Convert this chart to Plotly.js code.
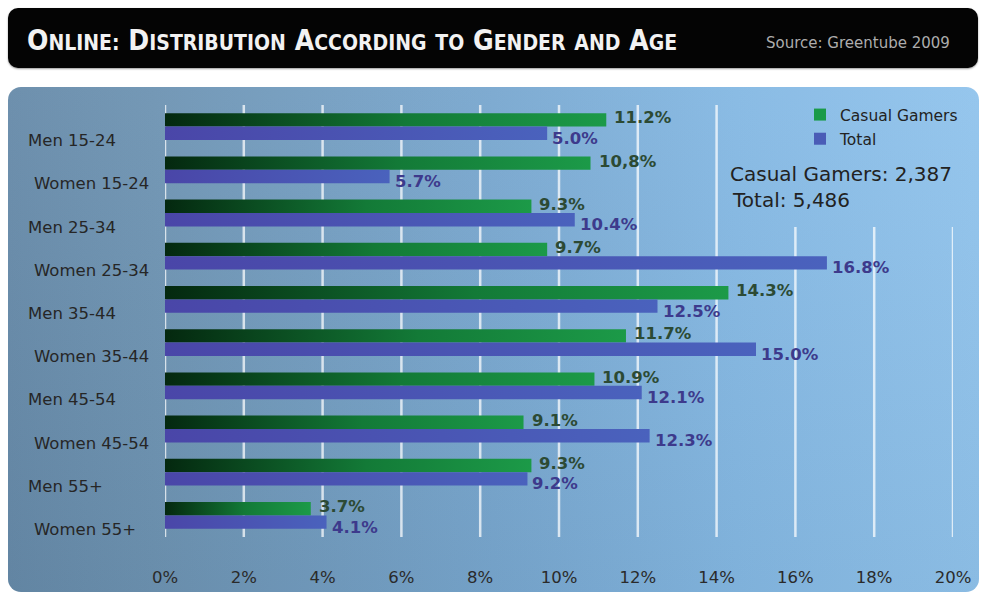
<!DOCTYPE html>
<html>
<head>
<meta charset="utf-8">
<script src="https://cdn.plot.ly/plotly-3.0.1.min.js"></script>
<style>
  html, body { margin:0; padding:0; background:#ffffff; }
  #wrap { position:relative; width:981px; height:594px; overflow:hidden; background:#ffffff; }
  #titlebar { position:absolute; left:8px; top:8px; width:970px; height:60px; background:#040404; border-radius:10px; box-shadow:0 1px 2px rgba(0,0,0,0.4); }
  #panel { position:absolute; left:8px; top:87px; width:971px; height:505px; border-radius:13px;
    background: linear-gradient(to bottom, rgba(255,255,255,0.05), rgba(0,0,0,0.04)),
                linear-gradient(to right, #668aa9 0%, #6d93b2 15%, #78a7cf 50%, #84b8e3 75%, #90c3ec 100%); }
  #chart { position:absolute; left:0; top:0; width:981px; height:594px; }
</style>
</head>
<body>
<div id="wrap">
  <div id="titlebar"></div>
  <div id="panel"></div>
  <div id="chart"></div>
</div>
<script>
// ---- data ----
var categories = ["Men 15-24","Women 15-24","Men 25-34","Women 25-34","Men 35-44","Women 35-44","Men 45-54","Women 45-54","Men 55+","Women 55+"];
var casualShare = [11.2, 10.8, 9.3, 9.7, 14.3, 11.7, 10.9, 9.1, 9.3, 3.7];
var totalShare  = [9.7, 5.7, 10.4, 16.8, 12.5, 15.0, 12.1, 12.3, 9.2, 4.1];
var casualLabels = ["11.2%","10,8%","9.3%","9.7%","14.3%","11.7%","10.9%","9.1%","9.3%","3.7%"];
var totalLabels  = ["5.0%","5.7%","10.4%","16.8%","12.5%","15.0%","12.1%","12.3%","9.2%","4.1%"];
var tickVals = [0,2,4,6,8,10,12,14,16,18,20];
var tickText = ["0%","2%","4%","6%","8%","10%","12%","14%","16%","18%","20%"];
var seriesNames = ["Casual Gamers","Total"];
var sampleNotes = ["Casual Gamers: 2,387","Total: 5,486"];
var SC = '<span style="font-size:21px">';
var titleText = 'O'+SC+'NLINE:</span> D'+SC+'ISTRIBUTION</span> A'+SC+'CCORDING</span> '+SC+'TO</span> G'+SC+'ENDER</span> '+SC+'AND</span> A'+SC+'GE</span>';
var sourceText = "Source: Greentube 2009";

// ---- styles ----
var GREEN = "#1a9a48", BLUE = "#4a5cb6";
var FONT = "DejaVu Sans, Verdana, sans-serif";
var W = 981, H = 594, ML = 165, MR = 28, MT = 105, MB = 57;
var plotW = W - ML - MR, plotH = H - MT - MB;
function px2x(p){ return (p - ML) / plotW; }
function px2y(p){ return (H - MB - p) / plotH; }
var pitch = plotH / categories.length;
var bargap = 0.38;
var barOff = pitch * (1 - bargap) / 4;

var traces = [
  { type:"bar", orientation:"h", name:seriesNames[0], legendgroup:"a", y:categories, x:casualShare,
    marker:{color:GREEN, line:{width:0}}, hoverinfo:"skip" },
  { type:"bar", orientation:"h", name:seriesNames[1], legendgroup:"b", y:categories, x:totalShare,
    marker:{color:BLUE, line:{width:0}}, hoverinfo:"skip" }
];

var annotations = [];
categories.forEach(function(c, i){
  var isWomen = c.indexOf("Women") === 0;
  annotations.push({ xref:"paper", x:0, xshift: isWomen ? -133 : -139, xanchor:"left",
    yref:"y", y:c, yshift:-14, yanchor:"middle", showarrow:false, text:c,
    font:{family:FONT, size:16.5, color:"#262626"} });
  annotations.push({ xref:"x", x:casualShare[i], xshift:6, xanchor:"left",
    yref:"y", y:c, yshift: barOff + 2, yanchor:"middle", showarrow:false, text:casualLabels[i],
    font:{family:FONT, size:16.5, color:"#2c4a34", weight:"bold"} });
  annotations.push({ xref:"x", x:totalShare[i], xshift:3, xanchor:"left",
    yref:"y", y:c, yshift: -barOff - 5, yanchor:"middle", showarrow:false, text:totalLabels[i],
    font:{family:FONT, size:16.5, color:"#3d3a8c", weight:"bold"} });
});
annotations.push({ xref:"paper", x:px2x(728), xanchor:"left", yref:"paper", y:px2y(174), yanchor:"middle",
  showarrow:false, text:sampleNotes[0], font:{family:FONT, size:20, color:"#222222"} });
annotations.push({ xref:"paper", x:px2x(730), xanchor:"left", yref:"paper", y:px2y(200), yanchor:"middle",
  showarrow:false, text:sampleNotes[1], font:{family:FONT, size:20, color:"#222222"} });
annotations.push({ xref:"paper", x:px2x(952), xanchor:"right", yref:"paper", y:px2y(43), yanchor:"middle",
  showarrow:false, text:sourceText, font:{family:FONT, size:15, color:"#adadad"} });

var shapes = tickVals.map(function(v){
  return { type:"line", xref:"x", x0:v, x1:v, yref:"paper", y0:0, y1: v >= 16 ? px2y(227) : 1,
    line:{color:"rgba(255,255,255,0.72)", width:2.5}, layer:"below" };
});

var layout = {
  width:W, height:H,
  margin:{l:ML, r:MR, t:MT, b:MB, pad:0},
  paper_bgcolor:"rgba(0,0,0,0)", plot_bgcolor:"rgba(0,0,0,0)",
  title:{ text:titleText, xref:"container", x:27/W, xanchor:"left", yref:"container", y:1-40/H, yanchor:"middle",
    font:{family:"DejaVu Sans Condensed, DejaVu Sans, sans-serif", size:28, color:"#f2f2f2", weight:"bold"} },
  barmode:"group", bargap:bargap, bargroupgap:0,
  xaxis:{ range:[0,20], tickvals:tickVals, ticktext:tickText, showgrid:false, zeroline:false, showline:false,
    ticks:"", ticklabelstandoff:28, tickfont:{family:FONT, size:16.5, color:"#2a2a2a"}, fixedrange:true },
  yaxis:{ type:"category", range:[categories.length-0.5, -0.5], showgrid:false, zeroline:false, showline:false,
    showticklabels:false, ticks:"", fixedrange:true },
  legend:{ x:px2x(800), xanchor:"left", y:px2y(98), yanchor:"top", bgcolor:"rgba(0,0,0,0)",
    traceorder:"grouped", tracegroupgap:1, font:{family:FONT, size:15.5, color:"#222222"} },
  showlegend:true,
  annotations:annotations,
  shapes:shapes,
  hovermode:false
};

Plotly.newPlot("chart", traces, layout, {staticPlot:true, displayModeBar:false}).then(function(gd){
  var svg = gd.querySelector(".main-svg");
  var defs = svg.querySelector("defs");
  var NS = "http://www.w3.org/2000/svg";
  function grad(id, stops){
    var g = document.createElementNS(NS, "linearGradient");
    g.setAttribute("id", id); g.setAttribute("x1","0"); g.setAttribute("x2","1"); g.setAttribute("y1","0"); g.setAttribute("y2","0");
    stops.forEach(function(s){
      var st = document.createElementNS(NS, "stop");
      st.setAttribute("offset", s[0]); st.setAttribute("stop-color", s[1]);
      g.appendChild(st);
    });
    defs.appendChild(g);
  }
  grad("gradGreen", [[0,"#04280f"],[0.55,"#137a37"],[1,"#1c9a48"]]);
  grad("gradBlue", [[0,"#4a46a8"],[1,"#4a62bd"]]);
  var groups = svg.querySelectorAll(".barlayer .trace.bars");
  if (groups[0]) groups[0].querySelectorAll("path").forEach(function(p){ p.style.fill = "url(#gradGreen)"; });
  if (groups[1]) groups[1].querySelectorAll("path").forEach(function(p){ p.style.fill = "url(#gradBlue)"; });
});
</script>
</body>
</html>
